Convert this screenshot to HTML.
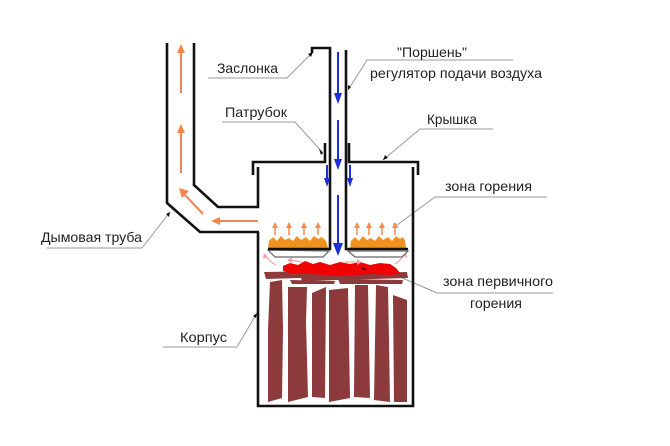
<!DOCTYPE html>
<html><head><meta charset="utf-8"><style>
html,body{margin:0;padding:0;background:#fff;}
svg{display:block;}
text{font-family:"Liberation Sans","DejaVu Sans",sans-serif;font-size:14px;fill:#222;}
</style></head><body>
<svg width="670" height="446" viewBox="0 0 670 446" xmlns="http://www.w3.org/2000/svg">
<rect width="670" height="446" fill="#fff"/>

<!-- leader lines -->
<g stroke="#9a9a9a" stroke-width="1" fill="none">
<polyline points="208,78 287,78 313,52"/>
<polyline points="222,122 295,122 323,153"/>
<polyline points="513,60 367,60 348,90"/>
<polyline points="493,129 420,129 383,160"/>
<polyline points="547,197 435,197 393,228"/>
<polyline points="553,293 437,293 400,277"/>
<polyline points="47,248 142,248 170,212"/>
<polyline points="163,347 237,347 257,313"/>
</g>
<g fill="#111">
<polygon points="313,52 308,54 311,57"/>
<polygon points="323,153 319,149 321,155"/>
<polygon points="348,90 348,85 351,87"/>
<polygon points="383,160 385,155 388,158"/>
<polygon points="393,228 394,223 397,226"/>
<polygon points="170,212 166,214 169,217"/>
<polygon points="257,313 253,316 256,318"/>
</g>

<!-- logs -->
<g fill="#8c3a3c">
<polygon points="270,282 282,280 283,330 282,398 268,402 268,330"/>
<polygon points="288,287 307,287 306,322 308,397 288,402"/>
<polygon points="312,293 326,287 325,398 312,397"/>
<polygon points="329,290 348,288 349,340 350,398 329,402"/>
<polygon points="355,285 368,285 369,340 370,398 354,397"/>
<polygon points="376,285 388,287 389,340 390,402 374,400"/>
<polygon points="393,295 407,300 407,402 394,402"/>
<polygon points="264,272 333,271 334,277 266,279"/>
<polygon points="300,275 407,272 408,278 302,281"/>
<polygon points="290,280 335,281 334,284 292,284"/>
<polygon points="338,279 403,280 402,284 340,284"/>
</g>
<!-- red flame -->
<polygon fill="#f20000" points="283,266 290,263 298,265 305,261 313,264 320,262 330,265 340,262 350,264 360,262 370,265 380,263 390,264 396,268 400,273 392,275 370,274 340,276 310,274 290,273 283,271"/>
<path d="M362,268 l4,2" stroke="#600" stroke-width="2"/>

<!-- pink wisps -->
<g stroke="#f3a3ad" stroke-width="1.2" fill="none">
<path d="M276,265 Q270,262 266,256"/>
<path d="M302,262 L290,260"/>
<path d="M345,262 L358,262"/>
<path d="M395,264 Q400,261 404,255"/>
</g>
<g fill="#f3a3ad">
<polygon points="264,253 263,259 268,257"/>
<polygon points="287,260 292,257 292,263"/>
<polygon points="362,262 357,259 357,265"/>
<polygon points="406,252 402,255 407,258"/>
</g>

<!-- combustion fire -->
<g fill="#f2921e">
<polygon points="268,248 269,241 273,237 277,241 281,236 285,240 289,238 293,241 297,236 301,240 306,237 310,241 314,236 318,239 322,237 326,241 328,248"/>
<polygon points="350,248 351,241 355,237 359,241 363,236 367,240 371,238 375,241 379,236 383,240 388,237 392,241 396,236 400,239 403,237 405,241 406,248"/>
</g>

<!-- small orange arrows over fire -->
<g stroke="#f58b4c" stroke-width="1.5">
<line x1="275" y1="235" x2="275" y2="227"/><line x1="289" y1="235" x2="289" y2="227"/>
<line x1="304" y1="235" x2="304" y2="227"/><line x1="318" y1="235" x2="318" y2="227"/>
<line x1="357" y1="235" x2="357" y2="227"/><line x1="369" y1="235" x2="369" y2="227"/>
<line x1="382" y1="235" x2="382" y2="227"/><line x1="395" y1="235" x2="395" y2="227"/>
</g>
<g fill="#f58b4c">
<polygon points="275,222 272,228 278,228"/><polygon points="289,222 286,228 292,228"/>
<polygon points="304,222 301,228 307,228"/><polygon points="318,222 315,228 321,228"/>
<polygon points="357,222 354,228 360,228"/><polygon points="369,222 366,228 372,228"/>
<polygon points="382,222 379,228 385,228"/><polygon points="395,222 392,228 398,228"/>
</g>

<!-- plates (grey trapezoids) -->
<g stroke="#666" stroke-width="1.2" fill="#fff">
<polygon points="268,250 275,257 323,257 329,251"/>
<polygon points="348,251 355,257 402,257 408,251"/>
</g>

<!-- chimney orange arrows -->
<g stroke="#f5854a" stroke-width="2">
<line x1="181" y1="93" x2="181" y2="52"/>
<line x1="181" y1="173" x2="181" y2="132"/>
<line x1="203" y1="214" x2="185" y2="195"/>
<line x1="258" y1="221" x2="219" y2="221"/>
</g>
<g fill="#f5854a">
<polygon points="181,44 177,53 185,53"/>
<polygon points="181,124 177,133 185,133"/>
<polygon points="179,188 182,198 189,191"/>
<polygon points="211,221 220,217 220,225"/>
</g>

<!-- structure lines -->
<g stroke="#111" stroke-width="2.6" fill="none" stroke-linejoin="miter">
<polyline points="167,43 167,203 200,232 259,232"/>
<polyline points="194,43 194,185 218,207 258,207 258,167"/>
<polyline points="258,232 258,406 413,406 413,167"/>
<polyline points="253,175 253,162 325,162 325,143"/>
<polyline points="349,143 349,162 418,162 418,175"/>
<polyline points="312,53 312,48 330,48 330,249 268,249"/>
<polyline points="346,50 346,249 408,249"/>
</g>

<!-- blue arrows -->
<g stroke="#1f2fd8" stroke-width="2">
<line x1="338" y1="52" x2="338" y2="95"/>
<line x1="338" y1="120" x2="338" y2="161"/>
<line x1="338" y1="195" x2="338" y2="245"/>
<line x1="327" y1="165" x2="327" y2="179"/>
<line x1="350" y1="165" x2="350" y2="179"/>
</g>
<g fill="#1f2fd8">
<polygon points="338,104 334,93 342,93"/>
<polygon points="338,170 334,159 342,159"/>
<polygon points="338,256 333,243 343,243"/>
<polygon points="327,187 324,178 330,178"/>
<polygon points="350,187 347,178 353,178"/>
</g>

<!-- labels -->
<text x="217" y="73" textLength="61" lengthAdjust="spacingAndGlyphs">Заслонка</text>
<text x="225" y="117" textLength="62" lengthAdjust="spacingAndGlyphs">Патрубок</text>
<text x="397" y="57" textLength="70" lengthAdjust="spacingAndGlyphs">"Поршень"</text>
<text x="370" y="78" textLength="172" lengthAdjust="spacingAndGlyphs">регулятор подачи воздуха</text>
<text x="427" y="124" textLength="50" lengthAdjust="spacingAndGlyphs">Крышка</text>
<text x="445" y="191" textLength="87" lengthAdjust="spacingAndGlyphs">зона горения</text>
<text x="443" y="286" textLength="110" lengthAdjust="spacingAndGlyphs">зона первичного</text>
<text x="470" y="308" textLength="52" lengthAdjust="spacingAndGlyphs">горения</text>
<text x="41" y="242" textLength="101" lengthAdjust="spacingAndGlyphs">Дымовая труба</text>
<text x="180" y="342" textLength="47" lengthAdjust="spacingAndGlyphs">Корпус</text>
</svg>
</body></html>
